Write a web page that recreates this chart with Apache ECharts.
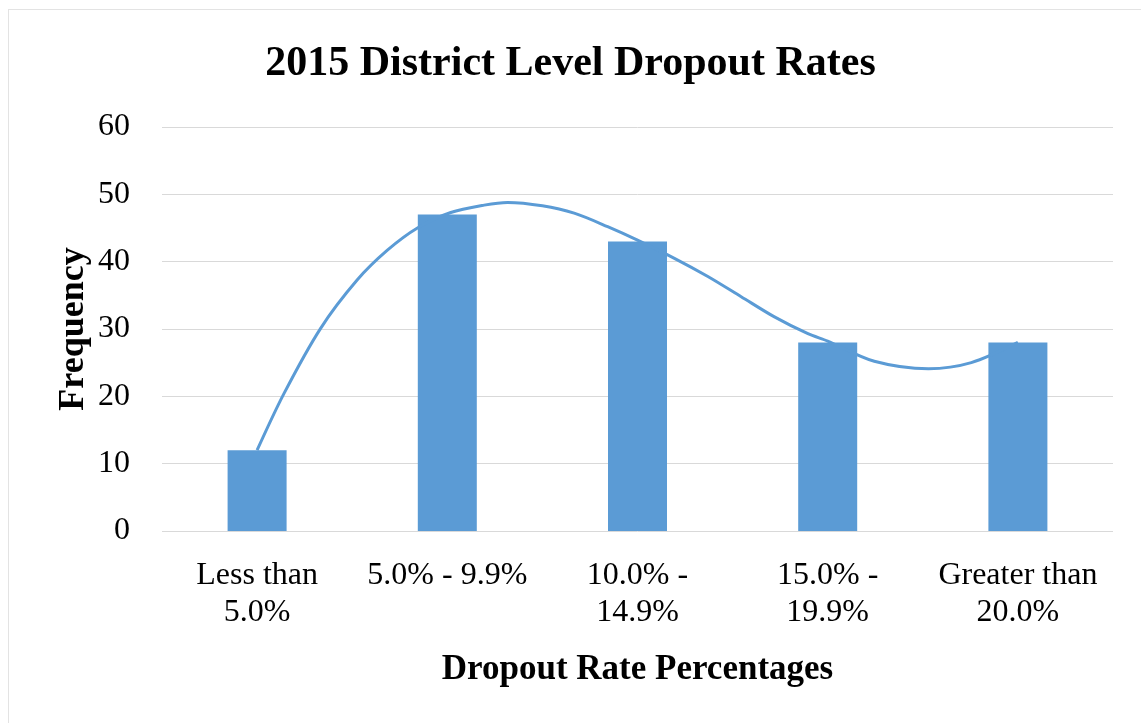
<!DOCTYPE html>
<html>
<head>
<meta charset="utf-8">
<title>2015 District Level Dropout Rates</title>
<script src="https://cdn.jsdelivr.net/npm/echarts@6/dist/echarts.min.js"></script>
<style>
html,body{margin:0;padding:0;background:#fff;}
#frame{position:absolute;left:8px;top:9px;width:1133px;height:714px;border-left:1px solid #e3e3e3;border-top:1px solid #e3e3e3;}
#chart{position:absolute;left:0;top:0;width:1141px;height:723px;}
</style>
</head>
<body>
<div id="frame"></div>
<div id="chart"></div>
<script>
var categories = ['Less than\n5.0%', '5.0% - 9.9%', '10.0% -\n14.9%', '15.0% -\n19.9%', 'Greater than\n20.0%'];
var frequency = [12, 47, 43, 28, 28];
// trendline: category position and value
var trendX = [0, 0.141, 0.334, 0.527, 0.685, 0.843, 1.018, 1.194, 1.317, 1.5, 1.667, 1.843, 2, 2.194, 2.37, 2.545, 2.72, 2.896, 3, 3.245, 3.53, 3.755, 4];
var trendY = [12, 20.4, 30.1, 37.3, 41.7, 45.0, 47.3, 48.4, 48.8, 48.3, 47.2, 45.2, 43.2, 40.5, 37.8, 34.8, 31.8, 29.3, 28.2, 25.2, 24.1, 25.0, 28];
var yTicks = [0, 10, 20, 30, 40, 50, 60];

var trend = [];
for(var i = 0;i<trendX.length;i++){
	trend.push([trendX[i], trendY[i]]);
}

var serif = '"Liberation Serif", "Times New Roman", serif';
var chart = echarts.init(document.getElementById('chart'));
chart.setOption({
	animation:false,
	title:{
		text:'2015 District Level Dropout Rates',
		left:'center',
		top:38,
		textStyle:{fontFamily:serif,fontWeight:'bold',fontSize:42,color:'#000'}
	},
	grid:{left:162,right:28,top:127,bottom:192},
	xAxis:[
		{
			type:'category',
			data:categories,
			name:'Dropout Rate Percentages',
			nameLocation:'middle',
			nameGap:121,
			nameTextStyle:{fontFamily:serif,fontWeight:'bold',fontSize:35,color:'#000'},
			axisLine:{show:false},
			axisTick:{show:false},
			axisLabel:{fontFamily:serif,fontSize:32,color:'#000',margin:26,lineHeight:37,interval:0}
		},
		{
			type:'value',
			min:-0.5,
			max:4.5,
			show:false
		}
	],
	yAxis:{
		type:'value',
		min:yTicks[0],
		max:yTicks[yTicks.length-1],
		interval:10,
		name:'Frequency',
		nameLocation:'middle',
		nameGap:70,
		nameMoveOverlap:false,
		nameTextStyle:{fontFamily:serif,fontWeight:'bold',fontSize:36,color:'#000'},
		axisLine:{show:false},
		axisTick:{show:false},
		axisLabel:{fontFamily:serif,fontSize:32,color:'#000',margin:32},
		splitLine:{lineStyle:{color:'#d9d9d9',width:1}}
	},
	series:[
		{
			type:'bar',
			data:frequency,
			barWidth:59,
			itemStyle:{color:'#5b9bd5'}
		},
		{
			type:'line',
			xAxisIndex:1,
			data:trend,
			smooth:0.3,
			showSymbol:false,
			lineStyle:{color:'#5b9bd5',width:3},
			z:3
		}
	]
});
</script>
</body>
</html>
